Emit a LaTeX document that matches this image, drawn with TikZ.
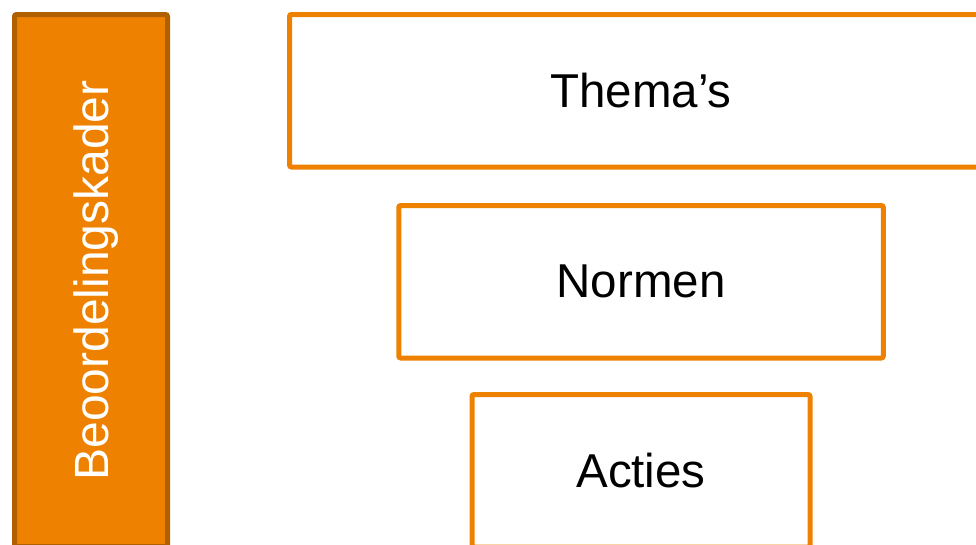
\documentclass[tikz,border=0pt]{standalone}
\usepackage{fontspec}
\setmainfont{Liberation Sans}
\usepackage{tikz}
\definecolor{kaderoranje}{RGB}{238,129,0}
\definecolor{kaderrand}{RGB}{176,96,0}
\begin{document}
\begin{tikzpicture}[x=1pt,y=-1pt,
	blok/.style={draw=kaderoranje,line width=5pt,fill=white,rounded corners=2pt,inner sep=0pt,minimum height=152.5pt,font=\fontsize{47.5}{56}\selectfont},
	kader/.style={draw=kaderrand,line width=5pt,fill=kaderoranje,rounded corners=2pt,inner sep=0pt,text=white,font=\fontsize{48}{56}\selectfont}]
\useasboundingbox (0,0) rectangle (976,544);
\clip (0,0) rectangle (976,544);
\node [kader,rotate=90,minimum width=532pt,minimum height=153pt,text height=45pt,text depth=10pt] (kader) at (91,280.5) {Beoordelingskader};
\node [blok,minimum width=703pt] (themas) at (641,90.75) {Thema’s};
\node [blok,minimum width=484.5pt] (normen) at (641,281.75) {Normen};
\node [blok,minimum width=338pt] (acties) at (641,470.75) {Acties};
\end{tikzpicture}
\end{document}
